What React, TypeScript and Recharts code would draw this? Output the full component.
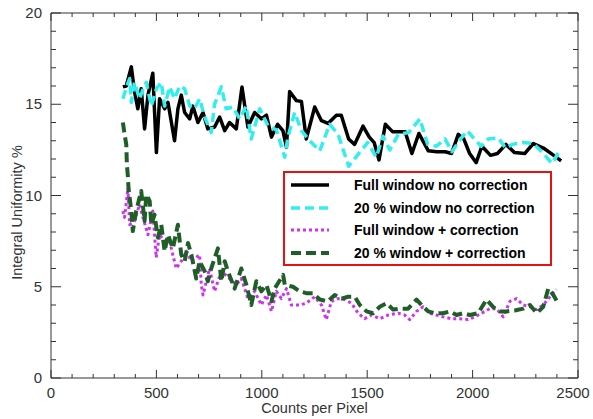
import { LineChart, Line, XAxis, YAxis, Legend } from 'recharts';

// counts per pixel vs integral uniformity (%)
const fullNoCorrection: [number, number][] = [
  [341, 15.95], [357, 16.0], [381, 17.05], [396, 15.7], [412, 14.75], [428, 15.85], [444, 13.65],
  [460, 15.5], [483, 16.7], [500, 12.35], [515, 15.3], [539, 14.75], [555, 15.1], [586, 13.0],
  [602, 14.75], [618, 15.5], [634, 14.55], [658, 14.2], [673, 14.9], [697, 14.0], [721, 14.55],
  [744, 13.65], [776, 13.75], [800, 14.3], [824, 13.55], [847, 14.0], [879, 13.65], [906, 15.95],
  [934, 13.75], [966, 14.55], [998, 14.2], [1022, 14.4], [1046, 13.2], [1075, 13.9], [1100, 13.55],
  [1117, 12.65], [1132, 15.7], [1164, 15.2], [1188, 15.15], [1211, 13.1], [1251, 14.85], [1283, 14.1],
  [1314, 13.95], [1354, 14.4], [1377, 14.4], [1412, 13.1], [1440, 12.8], [1480, 13.8], [1510, 13.2],
  [1533, 12.9], [1556, 11.95], [1586, 13.9], [1620, 13.5], [1680, 13.5], [1712, 12.3], [1745, 13.4],
  [1790, 12.45], [1830, 12.4], [1870, 12.4], [1900, 12.3], [1932, 13.35], [1958, 13.1], [1986, 12.3],
  [2017, 11.8], [2044, 12.7], [2085, 12.2], [2118, 12.3], [2158, 12.8], [2199, 12.35], [2247, 12.3],
  [2288, 12.85], [2336, 12.6], [2385, 12.2], [2420, 11.9],
];

const pctNoCorrection: [number, number][] = [
  [341, 15.3], [357, 15.9], [373, 16.4], [381, 15.1], [396, 16.2], [420, 15.3], [436, 15.8],
  [452, 16.2], [476, 14.9], [500, 15.85], [523, 16.2], [539, 14.9], [563, 15.95], [586, 15.3],
  [610, 16.0], [634, 15.85], [658, 14.9], [681, 14.75], [705, 15.3], [729, 14.3], [760, 13.45],
  [776, 15.0], [808, 15.95], [831, 14.75], [863, 14.85], [895, 14.2], [926, 14.9], [950, 13.1],
  [990, 14.75], [1030, 13.8], [1069, 13.6], [1109, 12.1], [1124, 13.2], [1156, 14.55], [1188, 13.55],
  [1227, 13.0], [1275, 12.45], [1322, 13.9], [1362, 13.35], [1412, 11.6], [1453, 12.2], [1502, 12.9],
  [1543, 12.1], [1575, 13.25], [1607, 12.5], [1648, 13.35], [1697, 13.45], [1750, 14.2], [1787, 12.8],
  [1828, 12.7], [1869, 13.1], [1902, 12.4], [1943, 13.1], [1975, 13.55], [2008, 13.1], [2041, 12.7],
  [2074, 13.1], [2123, 13.15], [2156, 12.6], [2189, 12.8], [2238, 12.9], [2288, 12.85], [2336, 12.3],
  [2377, 11.75], [2410, 12.4],
];

const fullCorrected: [number, number][] = [
  [341, 9.15], [349, 8.8], [357, 9.6], [365, 10.4], [373, 8.4], [396, 8.6], [420, 9.5], [436, 8.8],
  [460, 7.85], [483, 9.15], [499, 6.6], [515, 7.85], [539, 7.5], [563, 7.5], [578, 6.75], [594, 6.0],
  [618, 6.4], [642, 6.95], [666, 6.4], [705, 6.75], [713, 5.1], [721, 4.55], [752, 6.0], [776, 4.75],
  [808, 5.85], [847, 5.45], [879, 5.1], [903, 5.45], [934, 4.35], [966, 4.75], [998, 4.0], [1022, 4.55],
  [1046, 3.65], [1069, 4.75], [1093, 4.35], [1117, 4.9], [1140, 4.0], [1180, 4.0], [1211, 4.1],
  [1251, 4.45], [1283, 4.0], [1306, 3.2], [1330, 4.2], [1362, 4.35], [1393, 4.3], [1425, 4.1],
  [1457, 3.55], [1488, 3.25], [1520, 3.45], [1560, 3.25], [1599, 3.45], [1647, 3.55], [1678, 3.45],
  [1702, 3.2], [1734, 3.65], [1765, 3.9], [1797, 3.55], [1828, 3.45], [1860, 3.35], [1900, 3.25],
  [1939, 3.25], [1979, 3.2], [2011, 3.35], [2042, 3.55], [2082, 3.8], [2113, 3.8], [2145, 3.35],
  [2177, 4.2], [2208, 4.35], [2240, 4.0], [2272, 3.9], [2304, 3.75], [2335, 4.0], [2367, 4.45],
  [2398, 4.85],
];

const pctCorrected: [number, number][] = [
  [341, 14.0], [349, 13.35], [357, 12.8], [360, 11.7], [365, 11.0], [368, 10.35], [381, 9.15],
  [388, 8.05], [404, 9.15], [428, 10.25], [444, 8.6], [452, 10.05], [468, 9.7], [476, 8.4],
  [491, 8.95], [507, 7.7], [523, 8.4], [539, 6.95], [555, 7.85], [578, 7.1], [602, 8.4], [618, 6.75],
  [634, 6.4], [650, 7.4], [666, 6.75], [689, 5.45], [705, 6.4], [729, 5.85], [744, 5.3], [760, 6.0],
  [792, 7.1], [808, 5.3], [824, 6.4], [839, 5.85], [871, 4.9], [903, 6.0], [927, 5.1], [950, 4.0],
  [974, 5.3], [998, 4.75], [1022, 5.1], [1046, 4.2], [1061, 4.9], [1101, 5.65], [1109, 5.1],
  [1148, 5.0], [1180, 4.75], [1211, 4.65], [1243, 4.65], [1275, 4.3], [1314, 4.2], [1346, 4.55],
  [1378, 4.35], [1409, 4.45], [1441, 4.45], [1465, 4.0], [1497, 3.65], [1528, 3.55], [1560, 3.9],
  [1592, 4.1], [1623, 3.75], [1655, 3.8], [1694, 3.8], [1734, 4.3], [1758, 4.0], [1789, 3.65],
  [1821, 3.55], [1860, 3.55], [1892, 3.65], [1924, 3.45], [1955, 3.55], [1987, 3.45], [2026, 3.55],
  [2066, 4.3], [2097, 3.9], [2129, 3.65], [2161, 3.65], [2200, 3.7], [2240, 3.8], [2272, 4.0],
  [2304, 3.55], [2335, 3.9], [2359, 4.9], [2383, 4.55], [2406, 4.1],
];

const xTicks = Array.from({ length: 26 }, (_, i) => i * 100);
const yTicks = Array.from({ length: 21 }, (_, i) => i);

const series = [
  { name: 'Full window no correction', points: fullNoCorrection, color: '#000000', width: 3.5, dash: undefined },
  { name: '20 % window no correction', points: pctNoCorrection, color: '#33eeee', width: 3.5, dash: '9 5' },
  { name: 'Full window + correction', points: fullCorrected, color: '#cc33ee', width: 3, dash: '3 3' },
  { name: '20 % window + correction', points: pctCorrected, color: '#1f5f27', width: 4, dash: '10 5' },
];

const axisColor = '#333';
const tickFont = { fontFamily: 'Liberation Sans, Arial, sans-serif', fontSize: 15, fill: '#333' };

const LeftTick = ({ x, y, payload }: any) => {
  const major = payload.value % 5 === 0;
  return (
    <g>
      <line x1={x} x2={x + (major ? 10 : 5)} y1={y} y2={y} stroke={axisColor} />
      {major && <text x={x - 9} y={y + 5} textAnchor="end" {...tickFont}>{payload.value}</text>}
    </g>
  );
};

const RightTick = ({ x, y, payload }: any) => {
  const major = payload.value % 5 === 0;
  return <line x1={x} x2={x - (major ? 10 : 5)} y1={y} y2={y} stroke={axisColor} />;
};

const BottomTick = ({ x, y, payload }: any) => {
  const major = payload.value % 500 === 0;
  // keep the last label inside the picture
  const tx = Math.min(x, 573);
  return (
    <g>
      <line x1={x} x2={x} y1={y} y2={y - (major ? 8 : 4)} stroke={axisColor} />
      {major && <text x={tx} y={y + 20} textAnchor="middle" {...tickFont}>{payload.value}</text>}
    </g>
  );
};

const TopTick = ({ x, y, payload }: any) => {
  const major = payload.value % 500 === 0;
  return <line x1={x} x2={x} y1={y} y2={y + (major ? 8 : 4)} stroke={axisColor} />;
};

const renderLegend = () => (
  <div
    style={{
      width: 269,
      height: 95,
      boxSizing: 'border-box',
      border: '2px solid #e81010',
      background: '#fff',
      position: 'relative',
    }}
  >
    {series.map((s, i) => (
      <div
        key={s.name}
        style={{ position: 'absolute', left: 4, top: 1 + i * 22.7, height: 22, display: 'flex', alignItems: 'center' }}
      >
        <svg width={42} height={10}>
          <line x1={2} x2={40} y1={5} y2={5} stroke={s.color} strokeWidth={s.width} strokeDasharray={s.dash} />
        </svg>
        <span
          style={{
            marginLeft: 23,
            fontFamily: 'Liberation Sans, Arial, sans-serif',
            fontWeight: 'bold',
            fontSize: 14,
            color: '#000',
            whiteSpace: 'nowrap',
          }}
        >
          {s.name}
        </span>
      </div>
    ))}
  </div>
);

export default function App() {
  return (
    <div style={{ position: 'absolute', left: 0, top: 0, width: 593, height: 419, background: '#fff' }}>
      <LineChart width={593} height={419} margin={{ top: 12, right: 14, bottom: 40, left: 50 }}>
        <XAxis
          type="number"
          dataKey="x"
          domain={[0, 2500]}
          ticks={xTicks}
          interval={0}
          height={1}
          tickSize={0}
          tickMargin={0}
          tickLine={false}
          stroke={axisColor}
          tick={<BottomTick />}
          allowDataOverflow
          label={{
            value: 'Counts per Pixel',
            position: 'bottom',
            offset: 24,
            style: { fontFamily: 'Liberation Sans, Arial, sans-serif', fontSize: 14.5, fill: '#333' },
          }}
        />
        <XAxis
          xAxisId="top"
          orientation="top"
          type="number"
          dataKey="x"
          domain={[0, 2500]}
          ticks={xTicks}
          interval={0}
          height={1}
          tickSize={0}
          tickMargin={0}
          tickLine={false}
          stroke={axisColor}
          tick={<TopTick />}
          allowDataOverflow
        />
        <YAxis
          type="number"
          domain={[0, 20]}
          ticks={yTicks}
          interval={0}
          width={1}
          tickSize={0}
          tickMargin={0}
          tickLine={false}
          stroke={axisColor}
          tick={<LeftTick />}
          allowDataOverflow
          label={{
            content: ({ viewBox }: any) => {
              const cx = viewBox.x - 32;
              const cy = viewBox.y + viewBox.height / 2 + 17;
              return (
                <text
                  x={cx}
                  y={cy}
                  transform={`rotate(-90, ${cx}, ${cy})`}
                  textAnchor="middle"
                  dominantBaseline="middle"
                  fontFamily="Liberation Sans, Arial, sans-serif"
                  fontSize={14.5}
                  fill="#333"
                >
                  Integral Uniformity %
                </text>
              );
            },
          }}
        />
        <YAxis
          yAxisId="right"
          orientation="right"
          type="number"
          domain={[0, 20]}
          ticks={yTicks}
          interval={0}
          width={1}
          tickSize={0}
          tickMargin={0}
          tickLine={false}
          stroke={axisColor}
          tick={<RightTick />}
          allowDataOverflow
        />
        {series.map((s) => (
          <Line
            key={s.name}
            name={s.name}
            data={s.points.map(([x, y]) => ({ x, y }))}
            dataKey="y"
            type="linear"
            stroke={s.color}
            strokeWidth={s.width}
            strokeDasharray={s.dash}
            strokeLinejoin="round"
            dot={false}
            activeDot={false}
            isAnimationActive={false}
          />
        ))}
        <Legend
          layout="vertical"
          align="center"
          verticalAlign="middle"
          content={renderLegend}
          wrapperStyle={{ left: 283, top: 171, width: 269, height: 95 }}
        />
      </LineChart>
    </div>
  );
}
